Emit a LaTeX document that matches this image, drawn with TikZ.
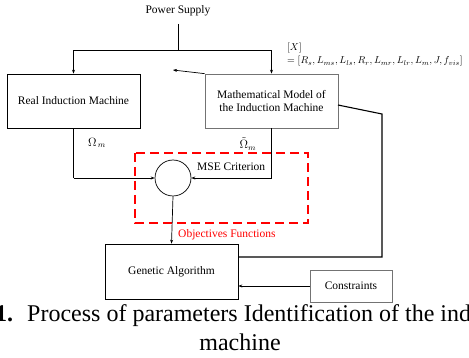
\documentclass[tikz,border=0pt]{standalone}
\usepackage{fontspec}
\setmainfont{Liberation Serif}
\usetikzlibrary{arrows.meta}
\begin{document}
\begin{tikzpicture}[x=1pt,y=-1pt,
  lbl/.style={font=\fontsize{11.5}{13.5}\selectfont, inner sep=0pt},
  mlbl/.style={font=\fontsize{10.2}{12}\selectfont, inner sep=0pt},
  blk/.style={draw=black, line width=0.7pt, fill=white, font=\fontsize{11.5}{13.5}\selectfont, align=center, inner sep=0pt},
  gblk/.style={blk, draw=black!55},
  conn/.style={line width=0.7pt, draw=black},
  arr/.style={conn, -{Stealth[length=4pt,width=3pt]}},
  redbox/.style={draw=red, line width=2.4pt, dash pattern=on 9pt off 5pt}
]
\useasboundingbox (0,0) rectangle (469,358);
\clip (0,0) rectangle (469,358);

% title
\node[lbl] (ps) at (178,11) {Power Supply};
\coordinate (psb) at (178,24);
\coordinate (split) at (178,50);

% boxes
\node[blk, minimum width=133pt, minimum height=54pt] (rim) at (73.5,101) {Real Induction Machine};
\node[gblk, minimum width=133pt, minimum height=54pt] (mm) at (271.5,101) {Mathematical Model of\\the Induction Machine};
\node[draw=black, line width=0.7pt, circle, minimum size=36pt, inner sep=0pt] (sum) at (173,178) {};
\node[blk, minimum width=133pt, minimum height=55pt] (ga) at (171.5,271.5) {Genetic Algorithm};
\node[gblk, minimum width=82pt, minimum height=32pt] (con) at (351,286) {Constraints};

% power supply lines
\draw[conn] (psb) -- (split);
\draw[arr] (split) -| (rim.north);
\draw[arr] (split) -| (mm.north);

% parameter arrow
\coordinate (ptip) at (173,70);
\draw[arr] (mm.north west) -- (ptip);

% parameter vector label
\node[mlbl, anchor=base west] (xl) at (287,51) {$[X]$};
\node[mlbl, anchor=base west] (xv) at (287,64) {$=[R_s,L_{ms},L_{ls},R_r,L_{mr},L_{lr},L_m,J,f_{vis}]$};

% outputs to summation
\coordinate (rb) at (73.5,178);
\coordinate (mb) at (271.5,178);
\draw[conn] (rim.south) -- (rb);
\draw[arr] (rb) -- (sum.west);
\draw[conn] (mm.south) -- (mb);
\draw[arr] (mb) -- (sum.east);
\node[lbl] (om) at (97,143) {$\Omega_{\,m}$};
\node[lbl] (omt) at (248,144) {$\tilde{\Omega}_m$};

% MSE
\draw[redbox] (135,153) rectangle (308,223);
\node[lbl, anchor=west] (mse) at (197,167) {MSE Criterion};
\draw[arr] (sum.south) -- (ga.north);
\node[lbl, anchor=west, text=red] (obj) at (178,235) {Objectives Functions};

% feedback from model to GA
\coordinate (f0) at (338,105);
\coordinate (f1) at (382,114);
\coordinate (f2) at (382,257);
\coordinate (f3) at (238,257);
\draw[line width=1.1pt] (f0) -- (f1) -- (f2) -- (f3);

% constraints
\draw[arr] (con.west) -- (con.west -| ga.east);

% caption
\node[anchor=base west, inner sep=0pt, font=\fontsize{24}{28}\selectfont\bfseries] (c1) at (-5,322) {1.};
\node[anchor=base west, inner sep=0pt, font=\fontsize{24}{28}\selectfont] (c2) at (27,322) {Process of parameters Identification of the ind};
\node[anchor=base, inner sep=0pt, font=\fontsize{24}{28}\selectfont] (c3) at (240,351) {machine};
\end{tikzpicture}
\end{document}
